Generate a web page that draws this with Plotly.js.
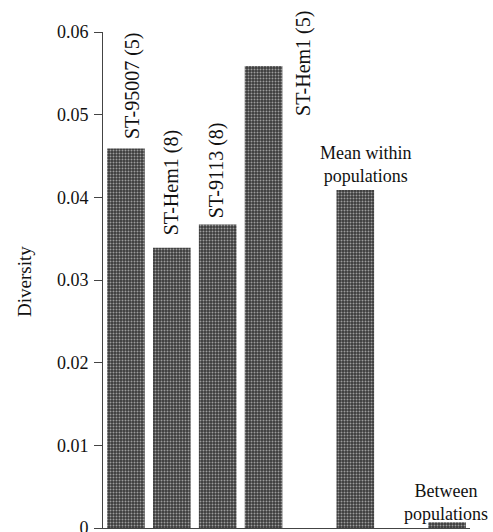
<!DOCTYPE html>
<html>
<head>
<meta charset="utf-8">
<script src="https://cdn.plot.ly/plotly-3.0.1.min.js"></script>
<style>html,body{margin:0;padding:0;background:#fff;}#chart{width:493px;height:532px;}</style>
</head>
<body>
<div id="chart"></div>
<script>
// Data
var positions = [0, 1, 2, 3, 5, 7];
var barLabels = ["ST-95007 (5)", "ST-Hem1 (8)", "ST-9113 (8)", "ST-Hem1 (5)"];
var summaryLabels = ["Mean within<br>populations", "Between<br>populations"];
var diversity = [0.0459, 0.0339, 0.0367, 0.0559, 0.0409, 0.0007];
var tickVals = [0, 0.01, 0.02, 0.03, 0.04, 0.05, 0.06];
var tickText = ["0", "0.01", "0.02", "0.03", "0.04", "0.05", "0.06"];

var font = "Liberation Serif, Times New Roman, serif";

var trace = {
  type: "bar",
  x: positions,
  y: diversity,
  width: 0.82,
  marker: {
    color: "#474747",
    line: {width: 0},
    pattern: {shape: ".", bgcolor: "#3a3a3a", fgcolor: "#9c9c9c", size: 3, solidity: 0.35}
  },
  hoverinfo: "none"
};

var ann = [];
var rotX = [0.13, 1.0, 1.98, 3.87];
var rotY = [0.0468, 0.0352, 0.0372, 0.0496];
for (var i = 0; i < 4; i++) {
  ann.push({
    x: rotX[i], y: rotY[i], xref: "x", yref: "y",
    text: barLabels[i], textangle: -90, showarrow: false,
    xanchor: "center", yanchor: "bottom",
    font: {family: font, size: 20, color: "#111"}
  });
}
var sumX = [5.24, 6.98];
var sumY = [0.0440, 0.0031];
for (var j = 0; j < 2; j++) {
  ann.push({x: sumX[j], y: sumY[j], xref: "x", yref: "y", text: summaryLabels[j], showarrow: false,
    xanchor: "center", yanchor: "middle", font: {family: font, size: 18, color: "#111"}});
}
ann.push({x: -0.2125, y: 0.496, xref: "paper", yref: "paper", text: "Diversity", textangle: -90,
  showarrow: false, xanchor: "center", yanchor: "middle", font: {family: font, size: 19, color: "#111"}});

var layout = {
  width: 493, height: 532,
  margin: {l: 103, r: 23, t: 32, b: 4},
  paper_bgcolor: "#fff", plot_bgcolor: "#fff",
  showlegend: false,
  xaxis: {range: [-0.5, 7.5], showticklabels: false, ticks: "", showgrid: false, zeroline: false,
    showline: true, linecolor: "#444", linewidth: 1, fixedrange: true},
  yaxis: {range: [0, 0.06], tickvals: tickVals, ticktext: tickText, ticks: "outside", ticklen: 8,
    tickcolor: "#444", tickwidth: 1, showgrid: false, zeroline: false, showline: true, linecolor: "#444",
    linewidth: 1, tickfont: {family: font, size: 18, color: "#111"}, ticklabelstandoff: 2,
    ticklabeloverflow: "allow"},
  annotations: ann
};

Plotly.newPlot("chart", [trace], layout, {displayModeBar: false, staticPlot: true});
</script>
</body>
</html>
